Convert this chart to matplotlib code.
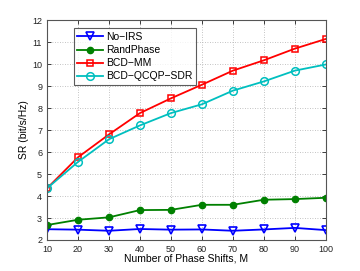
import matplotlib
matplotlib.use("Agg")
import matplotlib.pyplot as plt

plt.rcParams['font.family'] = ['Liberation Sans', 'DejaVu Sans']

M = [10, 20, 30, 40, 50, 60, 70, 80, 90, 100]
no_irs = [2.49, 2.47, 2.42, 2.50, 2.47, 2.48, 2.42, 2.48, 2.55, 2.45]
rand_phase = [2.68, 2.92, 3.03, 3.36, 3.37, 3.60, 3.60, 3.83, 3.86, 3.92]
bcd_mm = [4.35, 5.76, 6.80, 7.77, 8.44, 9.06, 9.70, 10.17, 10.70, 11.14]
bcd_qcqp = [4.35, 5.55, 6.58, 7.21, 7.77, 8.17, 8.79, 9.21, 9.70, 9.98]

labels = ['No\u2212IRS', 'RandPhase', 'BCD\u2212MM', 'BCD\u2212QCQP\u2212SDR']

fig = plt.figure(figsize=(3.6, 2.71), dpi=100)
ax = fig.add_axes([0.1306, 0.1144, 0.7744, 0.8116])

lw = 1.3
ax.plot(M, no_irs, color=(0, 0, 1), marker='v', markersize=5.5, markerfacecolor='none',
        markeredgewidth=1.2, linewidth=lw, label=labels[0])
ax.plot(M, rand_phase, color=(0, 0.5, 0), marker='o', markersize=4.5, markerfacecolor=(0, 0.5, 0),
        linewidth=lw, label=labels[1])
ax.plot(M, bcd_mm, color=(1, 0, 0), marker='s', markersize=5, markerfacecolor='none',
        markeredgewidth=1.1, linewidth=lw, label=labels[2])
ax.plot(M, bcd_qcqp, color=(0, 0.75, 0.75), marker='o', markersize=5.5, markerfacecolor='none',
        markeredgewidth=1.1, linewidth=lw, label=labels[3])

ax.set_xlim(10, 100)
ax.set_ylim(2, 12)
ax.set_xticks(M)
ax.set_yticks(range(2, 13))
ax.grid(True, linestyle=(0, (1, 2)), color='#b0b0b0', linewidth=0.6)
ax.tick_params(direction='in', labelsize=6.5, length=3, width=0.6, colors='#222222',
               top=True, right=True)
for s in ax.spines.values():
    s.set_color('#555555')
    s.set_linewidth(0.8)

ax.set_xlabel('Number of Phase Shifts, M', fontsize=7.5, labelpad=0)
ax.set_ylabel('SR (bit/s/Hz)', fontsize=7.5, labelpad=2)

leg = ax.legend(loc='upper left', bbox_to_anchor=(0.095, 0.962), fontsize=7.5,
                frameon=True, fancybox=False, borderpad=0.35, labelspacing=0.3,
                handlelength=2.5, handletextpad=0.3, borderaxespad=0)
leg.get_frame().set_edgecolor('#333333')
leg.get_frame().set_linewidth(0.8)

fig.savefig('out.png', dpi=100)
